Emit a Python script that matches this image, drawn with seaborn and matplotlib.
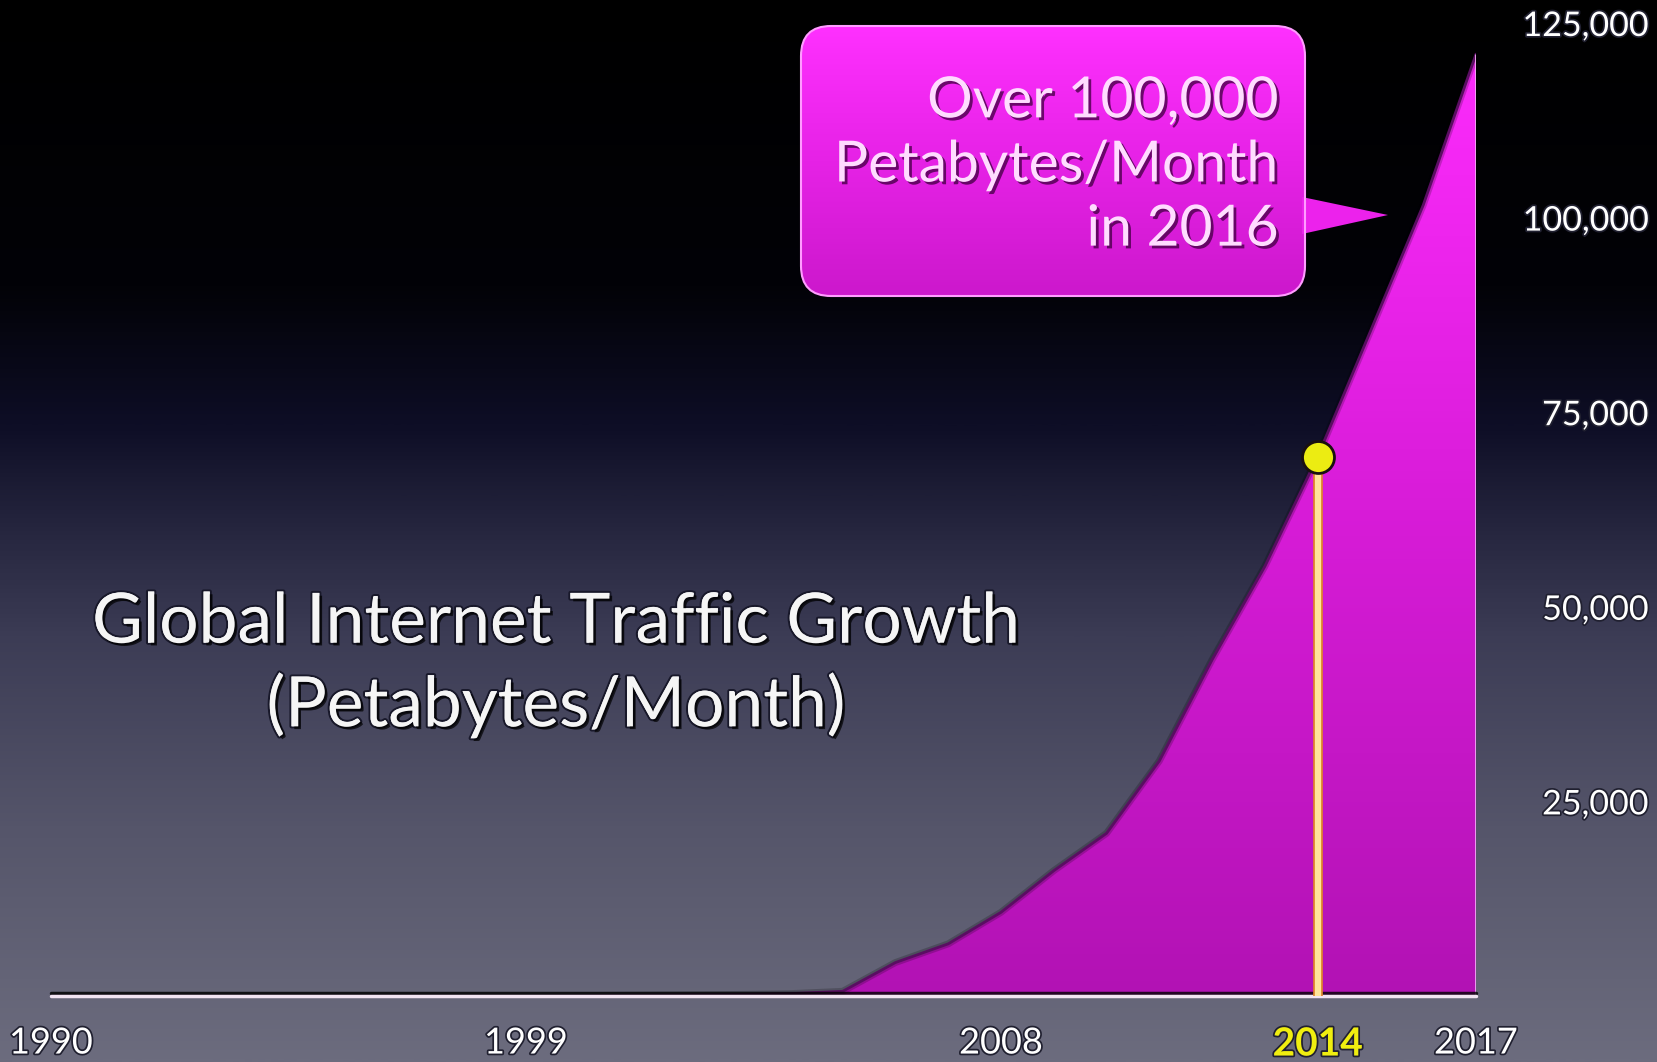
import matplotlib
matplotlib.use("Agg")
import matplotlib.pyplot as plt
import matplotlib.patheffects as pe
from matplotlib.colors import LinearSegmentedColormap
from matplotlib.patches import FancyBboxPatch, Polygon
import numpy as np
import pandas as pd
import seaborn as sns

# data (petabytes / month)
years = [1990, 1991, 1992, 1993, 1994, 1995, 1996, 1997, 1998, 1999,
         2000, 2001, 2002, 2003, 2004, 2005, 2006, 2007, 2008, 2009,
         2010, 2011, 2012, 2013, 2014, 2015, 2016, 2017]
traffic = [0, 0, 0, 0, 0, 0, 0, 0, 0, 0,
           50, 100, 150, 200, 300, 600, 4300, 6700, 10750, 16100,
           20900, 30200, 43200, 55200, 69300, 85400, 101600, 121000]

xtick_years = [1990, 1999, 2008, 2014, 2017]
xtick_labels = ["1990", "1999", "2008", "2014", "2017"]
ytick_values = [25000, 50000, 75000, 100000, 125000]
ytick_labels = ["25,000", "50,000", "75,000", "100,000", "125,000"]

highlight_year = 2014
callout_text = "Over 100,000\nPetabytes/Month\nin 2016"
title_text = "Global Internet Traffic Growth\n(Petabytes/Month)"

df = pd.DataFrame({"year": years, "traffic": traffic})
highlight_value = df.loc[df["year"] == highlight_year, "traffic"].iloc[0]

sns.set_theme(style="white")
plt.rcParams["font.family"] = ["Lato", "DejaVu Sans"]

W, H = 1657, 1062
fig = plt.figure(figsize=(W / 100, H / 100), dpi=100)

# background gradient, in pixel coordinates
ax_bg = fig.add_axes([0, 0, 1, 1], zorder=0)
bg_cmap = LinearSegmentedColormap.from_list(
    "bg",
    [(0, "#000000"), (0.27, "#020207"), (0.40, "#0e0e26"), (0.50, "#26263f"),
     (0.60, "#3c3c55"), (0.78, "#55556a"), (1, "#6c6c7e")],
)
ax_bg.imshow(np.linspace(0, 1, 512).reshape(-1, 1), cmap=bg_cmap,
             aspect="auto", extent=(0, W, H, 0))

# callout box
box = FancyBboxPatch((801, 26), 504, 270,
                     boxstyle="round,pad=0,rounding_size=30",
                     fc="none", ec="#ff9cff", lw=1.5, zorder=3)
ax_bg.add_patch(box)
box_cmap = LinearSegmentedColormap.from_list("box", ["#ff30ff", "#e622e6", "#cc18cc"])
box_img = ax_bg.imshow(np.linspace(0, 1, 256).reshape(-1, 1), cmap=box_cmap,
                       aspect="auto", extent=(801, 1305, 296, 26), zorder=2)
box_img.set_clip_path(box)
ax_bg.add_patch(Polygon([(1302, 197), (1388, 215), (1302, 234)],
                        closed=True, fc="#ec22ec", ec="none", zorder=2))
ax_bg.text(1279, 166, callout_text, ha="right", va="center",
           multialignment="right", fontsize=41, color="#ffdcff",
           linespacing=1.32, zorder=4,
           path_effects=[pe.withSimplePatchShadow(offset=(2, -2),
                                                  shadow_rgbFace="#4a004a",
                                                  alpha=0.8)])

ax_bg.text(556, 665, title_text, ha="center", va="center", fontsize=50,
           color="#f5f5f5", linespacing=1.32, zorder=4,
           path_effects=[pe.withStroke(linewidth=3, foreground="#18182a"),
                         pe.withSimplePatchShadow(offset=(2, -2),
                                                  shadow_rgbFace="black",
                                                  alpha=0.7)])
ax_bg.set_xlim(0, W)
ax_bg.set_ylim(H, 0)
ax_bg.axis("off")

# main chart
ax = fig.add_axes([51 / W, 66 / H, 1425 / W, 973 / H], zorder=1)
ax.patch.set_alpha(0)

poly = ax.fill_between(df["year"], df["traffic"], 0, color="none", lw=0)
fill_cmap = LinearSegmentedColormap.from_list("fill", ["#b212b4", "#d81cd8", "#ff2cff"])
fill_img = ax.imshow(np.linspace(0, 1, 256).reshape(-1, 1), cmap=fill_cmap,
                     origin="lower", aspect="auto",
                     extent=(1990, 2017, 0, 125000), zorder=2)
fill_img.set_clip_path(poly.get_paths()[0], transform=ax.transData)

sns.lineplot(data=df, x="year", y="traffic", ax=ax, color="#5a0e62", lw=2.0,
             zorder=3,
             path_effects=[pe.Stroke(linewidth=5, foreground="black", alpha=0.2),
                           pe.Normal()])
ax.vlines(2017, 0, traffic[-1], colors="#f4a8f4", lw=2, zorder=4,
          path_effects=[pe.SimpleLineShadow(offset=(2.5, 0), shadow_color="black",
                                            alpha=0.8), pe.Normal()])

ax.axhline(0, color="#f2e4f2", lw=2.5, zorder=5, clip_on=False,
           path_effects=[pe.SimpleLineShadow(offset=(0, 2.5), shadow_color="black",
                                             alpha=0.8), pe.Normal()])

ax.vlines(highlight_year, 0, highlight_value, colors="#e0822a", lw=7, zorder=6)
ax.vlines(highlight_year, 0, highlight_value, colors="#ffe49a", lw=4.5, zorder=7)
sns.scatterplot(x=[highlight_year], y=[highlight_value], s=23 ** 2,
                color="#ecec12", edgecolor="#1a1010", linewidth=2,
                zorder=8, ax=ax, clip_on=False)

ax.set_xlim(1990, 2017)
ax.set_ylim(0, 125000)
ax.grid(False)
for s in ax.spines.values():
    s.set_visible(False)
ax.set_xlabel("")
ax.set_ylabel("")

ax.set_xticks(xtick_years, labels=xtick_labels)
ax.tick_params(axis="x", length=0, pad=22, labelsize=26, labelcolor="white")
ax.yaxis.tick_right()
ax.set_yticks(ytick_values, labels=ytick_labels)
ax.tick_params(axis="y", length=0, pad=124, labelsize=24.5, labelcolor="white")

shadow = [pe.withStroke(linewidth=2.5, foreground="#202030")]
for lab in ax.get_yticklabels():
    lab.set_ha("right")
    lab.set_path_effects(shadow)
for lab in ax.get_xticklabels():
    lab.set_path_effects(shadow)
    if lab.get_text() == str(highlight_year):
        lab.set_color("#f0ee10")
        lab.set_fontweight("bold")
        lab.set_fontsize(28)

fig.savefig("out.png", dpi=100)
